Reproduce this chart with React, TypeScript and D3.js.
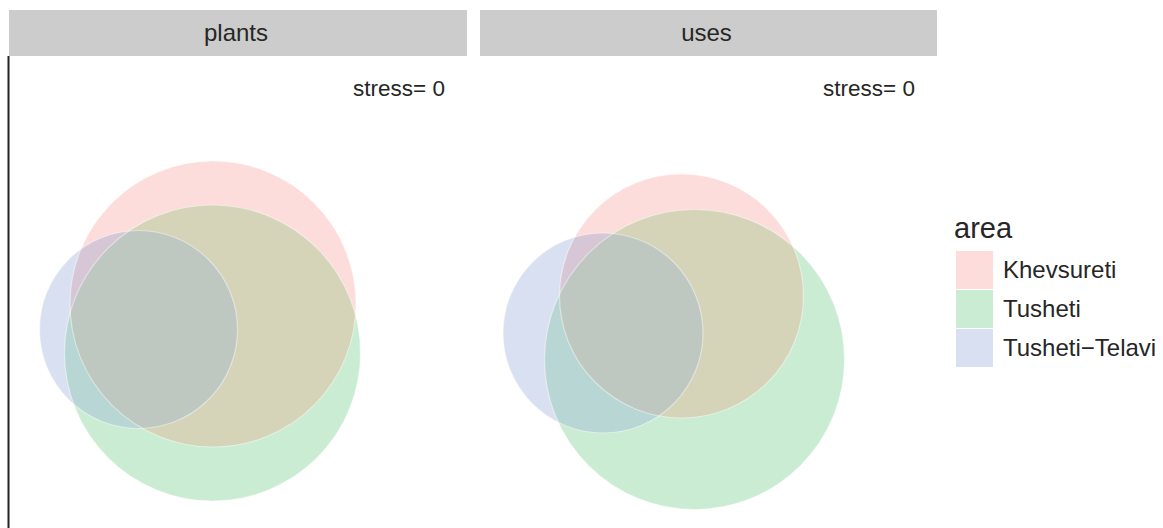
import React from "react";
import * as d3 from "d3";

const WIDTH = 1163;
const HEIGHT = 528;
const FONT = "'Liberation Sans', Arial, Helvetica, sans-serif";

// euler fit results per facet (centre h,k and radius, in fit units)
const facets = ["plants", "uses"];
const areas = ["Khevsureti", "Tusheti", "Tusheti\u2212Telavi"];
const plantsH = [-0.25, -0.255, -0.995];
const plantsK = [0.26, -0.23, 0.005];
const plantsR = [1.43, 1.48, 0.99];
const usesH = [-0.27, -0.14, -1.055];
const usesK = [0.34, -0.295, -0.03];
const usesR = [1.22, 1.5, 1.0];
const stressLabels = ["stress= 0", "stress= 0"];

// mixed colours of the euler regions (as eulerr blends them)
const soloColors = ["#FCDDDB", "#C9ECD3", "#D9E0F1"];
const pairs: [number, number][] = [
  [0, 1],
  [0, 2],
  [1, 2],
];
const pairColors = ["#D5D4B8", "#D6C6D6", "#B8D6D4"];
const tripleColor = "#BFC7C1";

const panels = [
  { x0: 9, x1: 467, h: plantsH, k: plantsK, r: plantsR },
  { x0: 480, x1: 937, h: usesH, k: usesK, r: usesR },
];

const STRIP_TOP = 10;
const STRIP_H = 46;
const PANEL_TOP = STRIP_TOP + STRIP_H;

export default function App() {
  return (
    <svg
      width={WIDTH}
      height={HEIGHT}
      style={{ position: "absolute", left: 0, top: 0, background: "#fff" }}
      fontFamily={FONT}
    >
      {panels.map((p, pi) => {
        const cx = (p.x0 + p.x1) / 2;
        const half = (p.x1 - p.x0) / 2 / 100;
        const x = d3.scaleLinear().domain([-half, half]).range([p.x0, p.x1]);
        const y = d3.scaleLinear().domain([-1, 1]).range([430, 230]);
        const px = x(1) - x(0);
        const circ = (i: number, props: any = {}) => (
          <circle cx={x(p.h[i])} cy={y(p.k[i])} r={p.r[i] * px} {...props} />
        );
        const clipId = (i: number) => `clip-${pi}-${i}`;
        return (
          <g key={pi}>
            <defs>
              {areas.map((a, i) => (
                <clipPath key={a} id={clipId(i)}>
                  {circ(i)}
                </clipPath>
              ))}
            </defs>
            <rect
              x={p.x0}
              y={STRIP_TOP}
              width={p.x1 - p.x0}
              height={STRIP_H}
              fill="#CCCCCC"
            />
            <text
              x={cx - 2}
              y={STRIP_TOP + STRIP_H / 2}
              dy="0.35em"
              textAnchor="middle"
              fontSize={24}
              fill="#262626"
            >
              {facets[pi]}
            </text>
            <text
              x={p.x1 - 22}
              y={96}
              textAnchor="end"
              fontSize={22.5}
              fill="#262626"
            >
              {stressLabels[pi]}
            </text>
            {areas.map((a, i) => (
              <g key={a}>{circ(i, { fill: soloColors[i] })}</g>
            ))}
            {pairs.map(([i, j], n) => (
              <g key={n} clipPath={`url(#${clipId(i)})`}>
                {circ(j, { fill: pairColors[n] })}
              </g>
            ))}
            <g clipPath={`url(#${clipId(0)})`}>
              <g clipPath={`url(#${clipId(1)})`}>
                {circ(2, { fill: tripleColor })}
              </g>
            </g>
            {areas.map((a, i) => (
              <g key={a}>
                {circ(i, {
                  fill: "none",
                  stroke: "#ffffff",
                  strokeOpacity: 0.45,
                  strokeWidth: 1.2,
                })}
              </g>
            ))}
          </g>
        );
      })}
      <line
        x1={8.5}
        x2={8.5}
        y1={PANEL_TOP}
        y2={HEIGHT}
        stroke="#222222"
        strokeWidth={2}
      />
      <g transform="translate(954,0)">
        <text x={0} y={238} fontSize={29} fill="#262626">
          area
        </text>
        {areas.map((a, i) => (
          <g key={a} transform={`translate(2,${251 + i * 39})`}>
            <rect width={37} height={38} fill={soloColors[i]} />
            <text x={47} y={19} dy="0.35em" fontSize={24} fill="#262626">
              {a}
            </text>
          </g>
        ))}
      </g>
    </svg>
  );
}
